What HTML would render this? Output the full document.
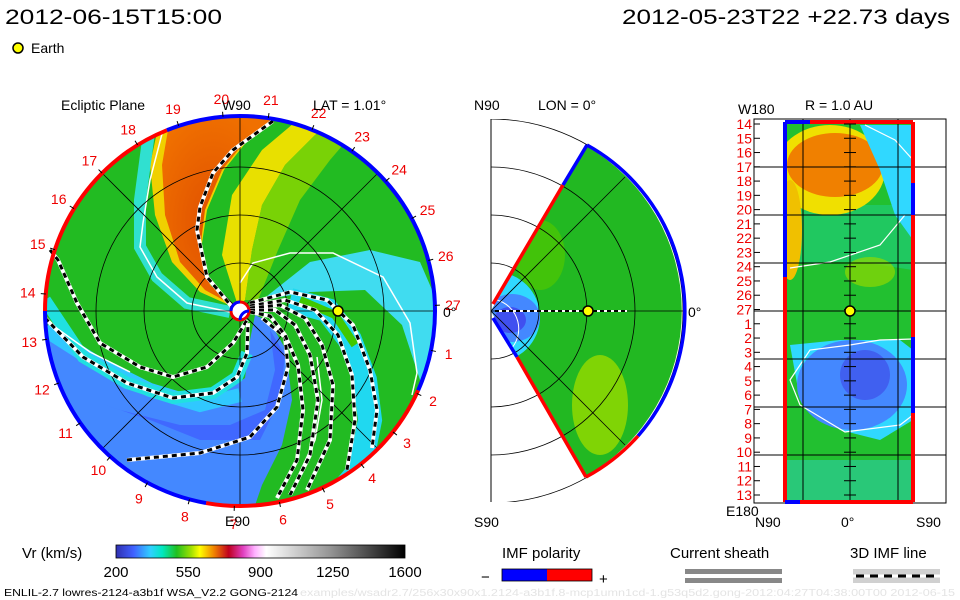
<!DOCTYPE html>
<html><head><meta charset="utf-8"><style>
html,body{margin:0;padding:0;background:#fff;}
svg{display:block;font-family:"Liberation Sans",sans-serif;}
</style></head><body>
<svg id="s" width="960" height="600" viewBox="0 0 960 600" xmlns="http://www.w3.org/2000/svg">
<defs>
<clipPath id="cc"><circle cx="240" cy="311" r="195"/></clipPath>
<clipPath id="wc"><path d="M491,311 L586,146 A190,190 0 0 1 586,476 Z"/></clipPath>
<clipPath id="fc"><rect x="491" y="119" width="240" height="383"/></clipPath>
<clipPath id="rc"><rect x="785" y="122" width="128" height="380"/></clipPath>
<linearGradient id="cb" x1="0" x2="1" y1="0" y2="0">
<stop offset="0" stop-color="#3030b0"/><stop offset="0.06" stop-color="#4060ff"/><stop offset="0.12" stop-color="#30d0ff"/><stop offset="0.16" stop-color="#00e8c0"/><stop offset="0.21" stop-color="#20c020"/><stop offset="0.26" stop-color="#a0e000"/><stop offset="0.29" stop-color="#ffff00"/><stop offset="0.34" stop-color="#f08000"/><stop offset="0.39" stop-color="#c00020"/><stop offset="0.44" stop-color="#e040c0"/><stop offset="0.48" stop-color="#ffb0ff"/><stop offset="0.52" stop-color="#ffffff"/><stop offset="0.75" stop-color="#909090"/><stop offset="1" stop-color="#000000"/>
</linearGradient>
<radialGradient id="og" cx="0.45" cy="0.55" r="0.6"><stop offset="0" stop-color="#e05000"/><stop offset="1" stop-color="#f07000"/></radialGradient>
</defs>

<!-- titles -->
<text x="5" y="24" font-size="21" textLength="217" lengthAdjust="spacingAndGlyphs">2012-06-15T15:00</text>
<text x="622" y="24" font-size="21" textLength="328" lengthAdjust="spacingAndGlyphs">2012-05-23T22 +22.73 days</text>
<circle cx="18" cy="48" r="5" fill="#ffff00" stroke="#000" stroke-width="1.5"/>
<text x="31" y="53" font-size="14">Earth</text>

<!-- LEFT: ecliptic plane -->
<g clip-path="url(#cc)">
<rect x="40" y="110" width="400" height="410" fill="#22bb22"/>
<path d="M262,300 L310,262 L370,250 L420,262 L445,320 L440,390 L420,380 L402,325 L365,290 L310,292 Z" fill="#40dcf0"/>
<path d="M238,306 L222,255 L232,195 L262,150 L300,118 L345,118 L315,135 L285,165 L262,205 L252,250 L245,300 Z" fill="#e8e000"/>
<path d="M245,300 L252,250 L262,205 L285,165 L315,135 L360,125 L330,160 L300,200 L278,250 L258,300 Z" fill="#90d800" opacity="0.8"/>
<path d="M238,309 L200,292 L172,262 L155,215 L150,165 L160,118 L278,118 L248,140 L224,170 L207,210 L201,250 L211,286 Z" fill="#f0d000"/>
<path d="M238,308 L205,290 L180,262 L165,215 L162,165 L170,118 L275,118 L246,140 L222,170 L205,210 L200,250 L210,285 Z" fill="url(#og)"/>
<path d="M150,125 L140,200 L140,247 L157,277 L187,303 L230,312" fill="none" stroke="#30e0d0" stroke-width="12"/>
<path d="M40,330 L80,360 L130,386 L180,400 L220,396 L245,378 L250,340 L255,315 L270,322 L286,350 L292,400 L282,445 L262,485 L250,520 L40,520 Z" fill="#4488ff"/>
<path d="M90,400 L150,420 L200,440 L260,440 L280,400 L285,355 L270,330 L275,370 L265,410 L230,425 L180,425 L120,410 Z" fill="#4068ff"/>
<path d="M45,330 L100,365 L150,390 L200,405 L240,395" fill="none" stroke="#30c8ff" stroke-width="14"/>
<path d="M45,300 L83,357 L127,383 L173,398 L213,393 L237,377 L247,353" fill="none" stroke="#20e0e0" stroke-width="12"/>
<path d="M290,300 L327,310 L350,340 L365,380 L370,420 L360,470 L330,505" fill="none" stroke="#20d8f0" stroke-width="24"/>
<path d="M300,300 L335,315 L355,345" fill="none" stroke="#40c800" stroke-width="8"/>
<g fill="none" stroke="#fff" stroke-width="1.5">
<polyline points="163,130 150,180 143,223 140,247 157,277 187,303 230,312"/>
<polyline points="240,283 253,263 290,253 333,253 383,277 410,323 417,373 412,395"/>
<polyline points="48,322 90,352 130,372"/>
<polyline points="317,357 322,400 315,440 293,487"/>
</g>
</g>
<g fill="none" stroke="#000" stroke-width="0.8">
<circle cx="240" cy="311" r="48"/><circle cx="240" cy="311" r="96"/><circle cx="240" cy="311" r="144"/>
<line x1="45" y1="311" x2="435" y2="311"/><line x1="240" y1="116" x2="240" y2="506"/>
<line x1="102" y1="173" x2="378" y2="449"/><line x1="102" y1="449" x2="378" y2="173"/>
</g>
<g id="spirals"></g>
<g id="rim"></g>
<g id="lticks"></g>
<circle cx="240" cy="311" r="9" fill="#fff" stroke="#e00" stroke-width="3"/>
<path d="M240,302 A9,9 0 0 0 231,311 M249,311 A9,9 0 0 0 240,320" fill="none" stroke="#00f" stroke-width="3"/>
<circle cx="338" cy="311" r="5" fill="#ffff00" stroke="#000" stroke-width="1.5"/>
<text x="61" y="110" font-size="14">Ecliptic Plane</text>
<text x="222" y="110" font-size="14">W90</text>
<text x="313" y="110" font-size="14">LAT = 1.01°</text>
<text x="443" y="317" font-size="14">0°</text>
<text x="225" y="526" font-size="14">E90</text>

<!-- MIDDLE: meridional -->
<g clip-path="url(#wc)">
<rect x="485" y="140" width="210" height="345" fill="#22b822"/>
<path d="M620,140 A175,175 0 0 1 640,480 L700,480 L700,140 Z" fill="#30d8ff"/>
<path d="M615,140 A165,165 0 0 1 630,470" fill="none" stroke="#00e8e0" stroke-width="14"/>
<path d="M612,140 A170,170 0 0 1 620,480" fill="none" stroke="#fff" stroke-width="1.5"/>
<ellipse cx="600" cy="405" rx="28" ry="50" fill="#90d800" opacity="0.85"/>
<ellipse cx="540" cy="255" rx="25" ry="35" fill="#50c800" opacity="0.7"/>
<circle cx="495" cy="317" r="45" fill="#30d8ff"/>
<ellipse cx="512" cy="318" rx="28" ry="24" fill="#4488ff"/>
<ellipse cx="510" cy="320" rx="16" ry="13" fill="#4050f0"/>
<path d="M497,300 A30,30 0 0 1 510,350" fill="none" stroke="#fff" stroke-width="1"/>
</g>
<g clip-path="url(#fc)" fill="none" stroke="#000" stroke-width="0.8">
<circle cx="491" cy="311" r="48"/><circle cx="491" cy="311" r="96"/><circle cx="491" cy="311" r="144"/><circle cx="491" cy="311" r="192"/>
</g>
<line x1="491" y1="119" x2="491" y2="502" stroke="#000" stroke-width="1"/>
<g stroke="#000" stroke-width="0.8">
<line x1="491" y1="311" x2="683" y2="311"/><line x1="491" y1="311" x2="625" y2="177"/><line x1="491" y1="311" x2="625" y2="445"/>
</g>
<g fill="none" stroke-width="3.5">
<path d="M493,304 L563,185" stroke="#f00"/><path d="M563,185 L587,145" stroke="#00f"/>
<path d="M587,145 A190,190 0 0 1 638,436" stroke="#00f"/>
<path d="M638,436 A190,190 0 0 1 586,477" stroke="#f00"/>
<path d="M493,318 L517,357" stroke="#00f"/><path d="M517,357 L586,477" stroke="#f00"/>
</g>
<line x1="495" y1="311" x2="627" y2="311" stroke="#fff" stroke-width="2"/>
<line x1="495" y1="311" x2="627" y2="311" stroke="#000" stroke-width="2" stroke-dasharray="4,3"/>
<circle cx="588" cy="311" r="5" fill="#ffff00" stroke="#000" stroke-width="1.5"/>
<text x="474" y="110" font-size="14">N90</text>
<text x="538" y="110" font-size="14">LON = 0°</text>
<text x="474" y="527" font-size="14">S90</text>
<text x="688" y="317" font-size="14">0°</text>

<!-- RIGHT: R=1 AU -->
<rect x="754" y="119" width="192" height="384" fill="#fff" stroke="#000" stroke-width="1"/>
<g clip-path="url(#rc)">
<rect x="785" y="122" width="128" height="380" fill="#22c030"/>
<path d="M785,205 L913,205 L913,270 L860,262 L820,262 L785,265 Z" fill="#20c860"/>
<ellipse cx="830" cy="170" rx="55" ry="45" fill="#f0e000"/>
<ellipse cx="835" cy="165" rx="48" ry="32" fill="#f08000"/>
<ellipse cx="790" cy="230" rx="12" ry="50" fill="#f0c000"/>
<path d="M860,125 L913,125 L913,240 L895,215 L880,170 Z" fill="#30d8ff"/>
<path d="M790,345 L840,340 L900,340 L913,350 L913,420 L880,440 L840,430 L800,400 Z" fill="#30d8ff"/>
<ellipse cx="852" cy="385" rx="55" ry="45" fill="#4488ff"/>
<ellipse cx="865" cy="375" rx="25" ry="25" fill="#4060f0"/>
<path d="M785,460 L913,460 L913,502 L785,502 Z" fill="#30d0c0" opacity="0.5"/>
<ellipse cx="870" cy="272" rx="25" ry="15" fill="#90d800" opacity="0.7"/>
<path d="M790,268 L830,262 L880,245 L905,215" fill="none" stroke="#fff" stroke-width="1.2"/>
<path d="M865,125 L895,140 L913,160" fill="none" stroke="#fff" stroke-width="1.2"/>
<path d="M913,339 L880,340 L850,345 L810,350 L790,380 L800,405 L845,432 L900,425 L913,415" fill="none" stroke="#fff" stroke-width="1.2"/>
</g>
<g stroke="#000" stroke-width="1">
<line x1="803" y1="119" x2="803" y2="503"/><line x1="850" y1="119" x2="850" y2="503"/><line x1="898" y1="119" x2="898" y2="503"/>
<line x1="754" y1="167" x2="946" y2="167"/><line x1="754" y1="215" x2="946" y2="215"/><line x1="754" y1="263" x2="946" y2="263"/><line x1="754" y1="311" x2="946" y2="311"/><line x1="754" y1="359" x2="946" y2="359"/><line x1="754" y1="407" x2="946" y2="407"/><line x1="754" y1="455" x2="946" y2="455"/>
</g>
<g fill="none" stroke-width="4">
<line x1="785" y1="122" x2="785" y2="277" stroke="#00f"/><line x1="785" y1="277" x2="785" y2="502" stroke="#f00"/>
<line x1="913" y1="122" x2="913" y2="183" stroke="#f00"/><line x1="913" y1="183" x2="913" y2="215" stroke="#00f"/><line x1="913" y1="215" x2="913" y2="337" stroke="#f00"/><line x1="913" y1="337" x2="913" y2="413" stroke="#00f"/><line x1="913" y1="413" x2="913" y2="502" stroke="#f00"/>
<line x1="785" y1="122" x2="810" y2="122" stroke="#00f"/><line x1="810" y1="122" x2="913" y2="122" stroke="#f00"/>
<line x1="785" y1="502" x2="800" y2="502" stroke="#00f"/><line x1="800" y1="502" x2="913" y2="502" stroke="#f00"/>
</g>
<g id="rticks"></g>
<circle cx="850" cy="311" r="5" fill="#ffff00" stroke="#000" stroke-width="1.5"/>
<text x="738" y="114" font-size="14">W180</text>
<text x="805" y="110" font-size="14">R = 1.0 AU</text>
<text x="726" y="516" font-size="14">E180</text>
<text x="755" y="527" font-size="14">N90</text>
<text x="841" y="527" font-size="14">0°</text>
<text x="916" y="527" font-size="14">S90</text>

<!-- colorbar -->
<text x="22" y="558" font-size="15">Vr (km/s)</text>
<rect x="116" y="545" width="289" height="13" fill="url(#cb)" stroke="#000" stroke-width="0.8"/>
<g id="cbt"></g>
<text x="502" y="558" font-size="15">IMF polarity</text>
<text x="481" y="582" font-size="15">−</text>
<rect x="502" y="569" width="45" height="12" fill="#00f"/>
<rect x="547" y="569" width="45" height="12" fill="#f00"/>
<rect x="502" y="569" width="90" height="12" fill="none" stroke="#000" stroke-width="0.8"/>
<text x="599" y="584" font-size="15">+</text>
<text x="670" y="558" font-size="15">Current sheath</text>
<rect x="685" y="569" width="97" height="5" fill="#888"/>
<rect x="685" y="578" width="97" height="5" fill="#888"/>
<text x="850" y="558" font-size="15">3D IMF line</text>
<rect x="853" y="569" width="87" height="14" fill="#d0d0d0"/>
<line x1="853" y1="576" x2="940" y2="576" stroke="#fff" stroke-width="3"/>
<line x1="856" y1="576" x2="940" y2="576" stroke="#000" stroke-width="3" stroke-dasharray="8,6"/>
<text x="4" y="596" font-size="10" textLength="294" lengthAdjust="spacingAndGlyphs">ENLIL-2.7 lowres-2124-a3b1f WSA_V2.2 GONG-2124</text>
<text x="300" y="596" font-size="10" fill="#e4e4e4" textLength="655" lengthAdjust="spacingAndGlyphs">examples/wsadr2.7/256x30x90x1.2124-a3b1f.8-mcp1umn1cd-1.g53q5d2.gong-2012:04:27T04:38:00T00 2012-06-15</text>
</svg>
<script>
const cbTicks = [200, 550, 900, 1250, 1600];
const cbMin = 200, cbMax = 1600;
const dayLabels = [14,15,16,17,18,19,20,21,22,23,24,25,26,27,1,2,3,4,5,6,7,8,9,10,11,12,13];
const rightLabels = [14,15,16,17,18,19,20,21,22,23,24,25,26,27,1,2,3,4,5,6,7,8,9,10,11,12,13];
const spiralLines = [
 [[273,121],[233,150],[213,173],[200,207],[197,230],[207,277],[232,307]],
 [[50,250],[58,260],[77,303],[100,343],[140,367],[173,377],[207,367],[233,343],[247,320]],
 [[45,318],[83,357],[127,383],[173,398],[213,393],[237,377],[247,353],[248,323]],
 [[127,460],[200,453],[250,437],[277,407],[288,367],[285,337],[262,318]],
 [[250,303],[290,292],[327,300],[353,325],[370,370],[377,410],[372,448]],
 [[250,306],[285,300],[315,310],[338,335],[352,375],[355,420],[347,470]],
 [[250,308],[280,305],[305,318],[322,345],[333,385],[330,440],[307,490]],
 [[250,310],[275,310],[295,325],[310,355],[318,400],[310,455],[290,495]],
 [[250,312],[270,316],[285,335],[298,365],[303,410],[297,460],[277,498]]
];
const rimSegs = [[112,180,'#f00'],[180,260,'#00f'],[260,336,'#f00'],[-24,112,'#00f']];

const NS='http://www.w3.org/2000/svg';
function mk(tag, attrs, parent){const e=document.createElementNS(NS,tag);for(const k in attrs)e.setAttribute(k,attrs[k]);parent.appendChild(e);return e;}
const cx=240, cy=311, R=195;

const sp=document.getElementById('spirals');
spiralLines.forEach(pts=>{
  const p=pts.map(q=>q.join(',')).join(' ');
  const w=mk('polyline',{points:p,fill:'none',stroke:'#fff','stroke-width':4},sp);
  
  
  const b=mk('polyline',{points:p,fill:'none',stroke:'#000','stroke-width':3,'stroke-dasharray':'5,4'},sp);
  
  
});

const rim=document.getElementById('rim');
function pt(r,deg){const a=deg*Math.PI/180;return [cx+r*Math.cos(a), cy-r*Math.sin(a)];}
rimSegs.forEach(s=>{
  const a=pt(R,s[0]), b=pt(R,s[1]);
  const large=(s[1]-s[0])>180?1:0;
  const e=mk('path',{d:`M${a[0]},${a[1]} A${R},${R} 0 ${large} 0 ${b[0]},${b[1]}`,fill:'none',stroke:s[2],'stroke-width':4},rim);
  
  
});

const lt=document.getElementById('lticks');
const step=360/27;
dayLabels.forEach((d,i)=>{
  const deg=175-i*step;
  const a=pt(R,deg), b=pt(R+5,deg), c=pt(213,deg);
  mk('line',{x1:a[0],y1:a[1],x2:b[0],y2:b[1],stroke:'#000','stroke-width':1},lt);
  const t=mk('text',{x:c[0],y:c[1]+5,'font-size':14,fill:'#e00','text-anchor':'middle'},lt);
  t.textContent=d;
  
  
});

const rt=document.getElementById('rticks');
rightLabels.forEach((d,i)=>{
  const y=124+i*(371/26);
  const t=mk('text',{x:752,y:y+5,'font-size':14,fill:'#e00','text-anchor':'end'},rt);
  t.textContent=d;
  
  
  mk('line',{x1:754,y1:y,x2:760,y2:y,stroke:'#000'},rt);
  mk('line',{x1:844,y1:y,x2:856,y2:y,stroke:'#000'},rt);
});

const cbt=document.getElementById('cbt');
cbTicks.forEach(v=>{
  const x=116+(v-cbMin)/(cbMax-cbMin)*289;
  const t=mk('text',{x:x,y:577,'font-size':15,'text-anchor':'middle'},cbt);
  t.textContent=v;
  
  
});
</script>
</body></html>
